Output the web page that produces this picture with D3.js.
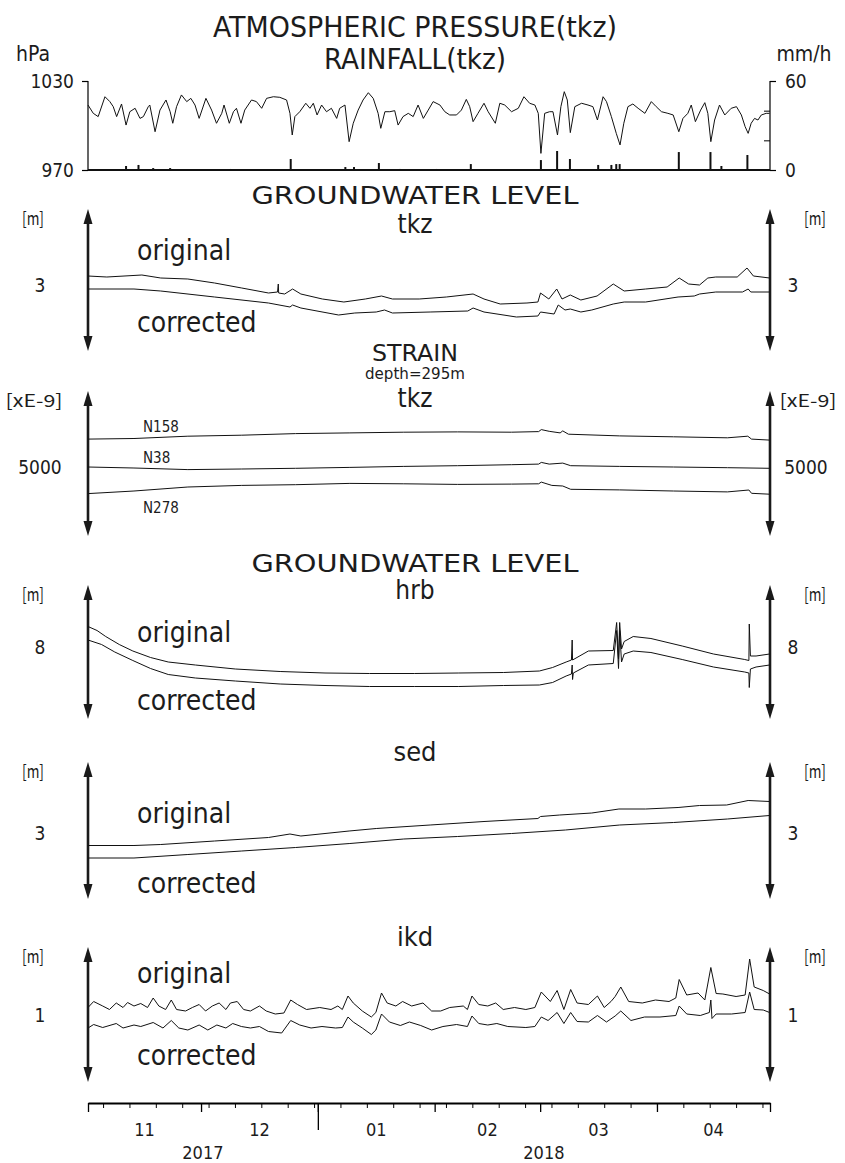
<!DOCTYPE html>
<meta charset="utf-8"/>
<style>
  body { margin: 0; background: #fff; }
  text {
    font-family: "Liberation Sans Narrow", "DejaVu Sans Condensed", "Roboto Condensed", sans-serif;
    font-stretch: condensed;
    fill: #1c1c1c;
  }
  .trace { fill: none; stroke: #111; stroke-width: 1; stroke-linejoin: round; }
  .unit { font-family: "Noto Sans CJK JP", "DejaVu Sans Mono", monospace; font-stretch: normal; }
</style>
<body>
<svg width="845" height="1163"></svg>
</body>
<script src="https://d3js.org/d3.v7.min.js"></script>
<script>

  // --- data: [day since 2017-11-01, value] ---
  var pressure = [[0,1013.8],[1.4,1008.2],[2.7,1006.0],[4.5,1019.4],[5.8,1016.1],[6.7,1012.7],[7.6,1006.0],[8.9,1014.5],[10.1,1000.3],[11.1,1009.3],[12.5,1011.6],[13.8,1004.8],[14.7,1006.0],[16.0,1012.7],[16.4,1013.8],[17.8,995.8],[19.1,1010.4],[20.7,1017.2],[21.8,1009.3],[22.5,1001.5],[23.5,1012.7],[24.8,1020.6],[26.2,1016.1],[27.3,1018.3],[28.4,1013.8],[29.5,1004.8],[31.3,1018.3],[32.8,1010.4],[34.1,1001.5],[35.5,1008.2],[36.1,1013.8],[37.5,1001.5],[38.6,1009.3],[39.4,1011.6],[40.6,1001.5],[41.6,1010.4],[43.4,1017.2],[44.7,1016.1],[46.1,1011.6],[47.4,1018.3],[49.2,1019.4],[50.9,1019.0],[52.7,1017.2],[53.6,1008.2],[54.2,993.6],[54.9,1006.0],[56.2,1009.3],[57.8,1015.0],[58.9,1011.6],[59.8,1015.0],[60.8,1007.1],[62.0,1013.8],[63.3,1009.3],[64.6,1011.6],[66.0,1004.8],[66.8,1011.6],[68.2,1013.8],[69.3,989.1],[70.4,1001.5],[71.7,1010.4],[73.0,1017.2],[74.4,1022.1],[75.7,1018.3],[77.0,1008.2],[77.7,998.1],[78.8,1009.3],[80.1,1009.3],[81.4,1010.0],[82.3,1000.3],[83.6,1006.0],[85.0,1008.2],[86.3,1006.0],[87.6,1013.8],[89.0,1004.8],[90.3,1010.4],[91.6,1016.1],[93.4,1013.8],[94.7,1009.3],[96.0,1007.1],[97.8,1007.1],[99.1,1010.4],[100.4,1017.6],[101.3,1012.7],[102.2,1002.6],[103.5,1008.2],[105.1,1015.0],[106.2,1009.3],[108.1,1001.5],[109.3,1015.0],[110.6,1013.8],[112.4,1009.3],[114.2,1011.6],[115.7,1019.4],[117.2,1015.0],[118.6,1013.8],[119.5,1008.2],[120.2,981.2],[121.2,1008.2],[122.5,1009.3],[123.4,1009.3],[124.6,993.6],[125.5,1012.7],[126.4,1022.8],[127.2,1017.2],[128.0,995.2],[129.2,1012.7],[131.0,1015.0],[132.7,1013.8],[134.0,1012.7],[135.2,1003.7],[136.7,1019.4],[137.6,1016.1],[138.9,1006.0],[140.2,994.7],[141.2,986.9],[142.2,1001.5],[143.3,1012.7],[144.6,1014.5],[146.0,1011.6],[147.8,1008.2],[149.5,1016.1],[150.8,1012.7],[152.2,1009.3],[153.9,1008.2],[155.3,1007.1],[156.8,995.8],[157.9,1004.8],[159.2,1008.2],[160.1,1013.8],[161.2,1002.6],[162.6,1010.4],[163.7,1015.4],[164.5,1008.2],[165.3,989.1],[166.3,1003.7],[167.6,1013.8],[169.0,1007.1],[170.7,1011.6],[172.1,1012.7],[173.4,1007.1],[174.4,999.2],[175.2,994.7],[176.0,1001.5],[176.9,1004.8],[177.8,1003.7],[178.7,1007.1],[180.0,1008.2],[180.9,1008.2]]

  var rainfall = [[10.1,2.7],[13.4,3.4],[17.3,1.3],[21.8,1.3],[37.9,0.7],[53.8,7.4],[68.3,2.0],[70.6,2.0],[77.2,4.7],[82.8,0.7],[92.5,0.7],[101.6,4.0],[120.2,6.7],[124.5,12.8],[127.9,7.4],[135.4,3.4],[138.9,3.4],[140.2,4.0],[141.1,4.0],[156.8,12.1],[165.2,12.1],[168.1,2.7],[175.0,10.1]]

  var tkzOriginal = [[0,3.09],[5.0,3.08],[14.3,3.10],[19.3,3.07],[26.5,3.06],[33.6,3.02],[40.8,2.97],[47.9,2.92],[50.3,2.93],[50.5,3.01],[50.6,2.92],[52.2,2.91],[54.3,2.96],[56.5,2.91],[62.2,2.86],[67.9,2.83],[73.6,2.86],[77.9,2.89],[80.8,2.86],[87.9,2.86],[95.1,2.88],[102.2,2.91],[105.1,2.86],[109.4,2.81],[116.5,2.82],[119.4,2.83],[120.1,2.92],[122.3,2.86],[124.4,2.96],[125.8,2.86],[128.0,2.90],[130.8,2.85],[135.1,2.89],[139.4,3.01],[142.3,2.94],[148.0,2.96],[153.7,2.98],[156.9,3.07],[159.4,3.01],[162.3,3.00],[164.5,3.07],[166.6,3.08],[172.3,3.08],[174.9,3.17],[176.6,3.09],[180.9,3.07]]
  var tkzCorrected = [[0,2.96],[12.2,2.96],[19.3,2.94],[33.6,2.88],[47.9,2.82],[53.6,2.78],[54.3,2.80],[56.5,2.77],[66.5,2.70],[70.8,2.72],[76.5,2.73],[78.7,2.75],[80.8,2.72],[90.8,2.73],[100.8,2.74],[102.2,2.77],[105.1,2.73],[113.7,2.68],[119.4,2.69],[120.1,2.73],[123.7,2.71],[124.8,2.80],[126.6,2.75],[128.0,2.76],[130.8,2.73],[133.7,2.75],[139.4,2.81],[142.3,2.83],[148.0,2.83],[156.6,2.88],[160.9,2.89],[162.3,2.91],[166.6,2.93],[173.7,2.93],[175.2,2.96],[175.9,2.93],[180.9,2.93]]

  var strainN158 = [[0,5558],[12.2,5570],[26.5,5616],[40.8,5636],[55.1,5668],[69.5,5682],[83.8,5696],[98.1,5702],[112.4,5696],[119.6,5708],[120.3,5748],[122.4,5714],[125.3,5682],[126.0,5722],[127.5,5656],[141.1,5622],[155.4,5604],[169.7,5584],[175.1,5616],[176.1,5558],[180.9,5538]]
  var strainN38 = [[0,5000],[12.2,4980],[26.5,4948],[40.8,4960],[55.1,4974],[69.5,4992],[83.8,5012],[98.1,5026],[112.4,5046],[119.6,5058],[120.3,5092],[122.4,5058],[126.0,5078],[128.1,5026],[141.1,5012],[155.4,5000],[169.7,4986],[180.9,4974]]
  var strainN278 = [[0,4468],[12.2,4520],[26.5,4600],[40.8,4632],[55.1,4646],[69.5,4672],[83.8,4664],[98.1,4652],[112.4,4658],[119.6,4664],[120.3,4698],[123.1,4632],[126.0,4620],[128.1,4554],[141.1,4542],[155.4,4520],[169.7,4502],[175.4,4540],[176.1,4474],[180.9,4456]]

  var hrbOriginal = [[0,8.41],[2.4,8.33],[4.7,8.21],[8.3,8.05],[11.9,7.92],[16.6,7.79],[21.3,7.70],[28.5,7.64],[39.1,7.56],[51.0,7.51],[62.9,7.48],[74.7,7.47],[86.6,7.47],[98.4,7.48],[110.3,7.49],[119.8,7.52],[123.3,7.59],[126.9,7.70],[128.3,7.74],[128.5,8.14],[128.6,7.74],[132.8,7.92],[139.4,7.93],[140.3,8.49],[140.8,7.76],[141.1,8.49],[141.6,7.96],[142.3,8.11],[144.7,8.21],[149.4,8.17],[157.7,8.02],[166.0,7.86],[174.3,7.75],[175.4,7.73],[175.5,8.46],[175.8,7.82],[177.3,7.82],[180.9,7.86]]
  var hrbCorrected = [[0,8.14],[3.6,8.05],[7.1,7.90],[11.9,7.73],[16.6,7.57],[21.3,7.45],[28.5,7.38],[39.1,7.32],[51.0,7.26],[62.9,7.23],[74.7,7.21],[86.6,7.21],[98.4,7.21],[110.3,7.23],[119.8,7.24],[123.3,7.29],[126.9,7.42],[128.3,7.46],[128.5,7.64],[128.6,7.35],[128.8,7.48],[132.8,7.64],[139.4,7.67],[140.3,8.33],[140.8,7.57],[141.1,8.33],[141.6,7.70],[142.3,7.86],[144.7,7.92],[149.4,7.89],[157.7,7.75],[166.0,7.60],[174.3,7.50],[175.4,7.48],[175.5,7.19],[175.8,7.56],[177.3,7.60],[180.9,7.64]]

  var sedOriginal = [[0,2.75],[12.2,2.75],[19.3,2.77],[33.6,2.84],[47.9,2.91],[53.6,2.98],[56.5,2.94],[69.3,3.04],[76.5,3.09],[90.8,3.16],[105.1,3.23],[119.4,3.29],[120.1,3.33],[125.2,3.36],[133.7,3.40],[140.9,3.48],[148.0,3.48],[156.6,3.51],[162.3,3.55],[169.5,3.56],[175.2,3.65],[180.9,3.63]]
  var sedCorrected = [[0,2.50],[12.2,2.50],[26.5,2.57],[40.8,2.64],[55.1,2.71],[69.5,2.79],[83.8,2.88],[98.1,2.93],[112.4,2.99],[126.7,3.06],[141.1,3.16],[155.4,3.21],[169.7,3.28],[180.9,3.35]]

  var ikdOriginal = [[0,1.15],[1.5,1.27],[3.9,1.18],[5.7,1.11],[7.5,1.24],[9.3,1.15],[10.5,1.25],[12.2,1.18],[14.0,1.23],[15.8,1.15],[17.3,1.34],[18.8,1.18],[20.6,1.11],[22.1,1.30],[23.5,1.11],[25.9,1.08],[27.7,1.15],[29.5,1.21],[31.2,1.08],[33.0,1.18],[34.8,1.24],[36.6,1.11],[37.8,1.24],[39.6,1.27],[41.3,1.11],[43.1,1.08],[45.5,1.18],[47.3,1.08],[49.7,1.02],[52.0,1.04],[53.8,1.30],[55.6,1.21],[58.0,1.11],[61.5,1.15],[64.5,1.11],[66.3,1.18],[67.5,1.11],[69.0,1.38],[70.4,1.24],[72.8,1.08],[75.2,0.96],[76.4,1.05],[77.9,1.44],[79.4,1.24],[81.7,1.18],[83.5,1.27],[85.9,1.18],[88.9,1.24],[91.2,1.08],[93.6,1.08],[96.0,1.15],[99.6,1.18],[100.7,1.11],[101.9,1.38],[103.7,1.21],[106.1,1.18],[108.2,1.24],[110.2,1.11],[113.2,1.15],[116.2,1.11],[118.6,1.15],[120.3,1.46],[122.7,1.27],[124.5,1.49],[126.3,1.11],[128.1,1.51],[129.8,1.24],[132.8,1.21],[135.2,1.38],[137.0,1.15],[138.8,1.27],[139.9,1.37],[141.4,1.56],[143.5,1.27],[147.1,1.24],[150.6,1.30],[154.2,1.27],[156.0,1.34],[156.9,1.71],[158.9,1.40],[161.9,1.44],[163.7,1.30],[165.3,1.95],[166.7,1.43],[168.5,1.42],[172.0,1.37],[174.4,1.40],[175.6,2.12],[176.8,1.56],[179.2,1.49],[180.9,1.42]]
  var ikdCorrected = [[0,0.74],[1.5,0.81],[3.9,0.75],[7.5,0.83],[9.3,0.74],[12.2,0.80],[14.0,0.77],[17.3,0.85],[19.9,0.74],[22.1,0.89],[24.1,0.74],[26.5,0.70],[29.5,0.80],[31.8,0.70],[34.2,0.80],[36.6,0.74],[38.4,0.83],[40.7,0.77],[43.1,0.74],[45.5,0.77],[47.9,0.67],[51.4,0.64],[53.8,0.89],[56.2,0.80],[59.2,0.74],[62.1,0.77],[65.7,0.74],[67.5,0.75],[69.0,0.96],[70.4,0.86],[72.8,0.74],[75.2,0.61],[76.4,0.70],[77.9,1.02],[80.0,0.86],[82.9,0.79],[85.3,0.86],[88.3,0.79],[91.2,0.70],[94.2,0.77],[97.8,0.81],[100.7,0.77],[101.9,0.98],[103.7,0.83],[106.1,0.80],[108.5,0.83],[111.4,0.77],[116.2,0.75],[118.6,0.77],[120.3,0.96],[122.1,0.89],[124.5,1.05],[126.3,0.83],[128.1,1.05],[129.8,0.87],[132.8,0.86],[135.2,0.99],[137.6,0.86],[139.9,0.98],[141.4,1.08],[144.1,0.89],[147.7,0.96],[151.8,0.96],[156.0,0.99],[156.9,1.18],[158.9,1.02],[162.5,0.99],[164.9,1.05],[165.3,1.30],[165.6,0.93],[166.7,1.02],[170.8,1.02],[174.4,1.05],[175.6,1.46],[176.8,1.11],[179.2,1.10],[180.9,1.05]]

  var monthLabels = ["11", "12", "01", "02", "03", "04"]
  var yearLabels = ["2017", "2018"]

  var svg = d3.select("svg")
  var left = 88, right = 770
  var t0 = Date.UTC(2017, 10, 1), t1 = Date.UTC(2018, 4, 1)

  var x = d3.scaleUtc().domain([new Date(t0), new Date(t1)]).range([left, right])
  function dayX(d) { return x(new Date(t0 + d * 864e5)) }

  // text centred on (px, py); optional width squeezes/stretches it to the reference width
  function label(txt, px, py, size, anchor, cls, width) {
    var t = svg.append("text")
      .attr("x", px).attr("y", py)
      .attr("dy", "0.35em")
      .attr("text-anchor", anchor || "middle")
      .attr("class", cls || null)
      .style("font-size", size + "px")
      .text(txt)
    if (width) t.attr("textLength", width).attr("lengthAdjust", "spacingAndGlyphs")
    return t
  }

  // ---------- top panel: pressure + rainfall ----------
  var yP = d3.scaleLinear().domain([970, 1030]).range([170, 81])
  var yR = d3.scaleLinear().domain([0, 60]).range([170, 81])

  label("ATMOSPHERIC PRESSURE(tkz)", 415, 27, 28, "middle", null, 404)
  label("RAINFALL(tkz)", 415, 59, 28, "middle", null, 182)
  label("hPa", 33, 54, 21)
  label("mm/h", 804, 54, 21)

  svg.append("g").attr("transform", "translate(" + left + ",0)")
    .call(d3.axisLeft(yP).tickValues([970, 1030]).tickSize(6).tickFormat(d3.format("d")))
    .call(function (g) {
      g.select(".domain").attr("d", "M0," + yP(1030) + "V" + yP(970)).attr("stroke-width", 1.2)
      g.selectAll("text").style("font-size", "19px").attr("x", -14)
      g.selectAll("line").attr("stroke-width", 1.2)
    })

  svg.append("g").attr("transform", "translate(" + right + ",0)")
    .call(d3.axisRight(yR).tickValues([0, 60]).tickSize(6))
    .call(function (g) {
      g.select(".domain").attr("d", "M0," + yR(60) + "V" + yR(0)).attr("stroke-width", 1.2)
      g.selectAll("text").style("font-size", "19px").attr("x", 15)
      g.selectAll("line").attr("stroke-width", 1.2)
    })
  svg.append("g").attr("transform", "translate(" + right + ",0)")
    .call(d3.axisLeft(yR).tickValues([20, 40]).tickSize(6).tickFormat(""))
    .call(function (g) { g.select(".domain").remove() })

  svg.append("line")
    .attr("x1", left).attr("x2", right).attr("y1", yP(970)).attr("y2", yP(970))
    .attr("stroke", "#111").attr("stroke-width", 2)

  svg.append("g").selectAll("line")
    .data(rainfall)
    .enter().append("line")
    .attr("x1", function (d) { return dayX(d[0]) })
    .attr("x2", function (d) { return dayX(d[0]) })
    .attr("y1", yR(0))
    .attr("y2", function (d) { return yR(d[1]) })
    .attr("stroke", "#111").attr("stroke-width", 2)

  svg.append("path")
    .datum(pressure)
    .attr("class", "trace")
    .attr("d", d3.line().x(function (d) { return dayX(d[0]) }).y(function (d) { return yP(d[1]) }))

  // ---------- lower panels ----------
  // titles: [text, y, font size, width]
  var panels = [
    { top: 209, bottom: 351, titles: [["GROUNDWATER LEVEL", 195, 25, 327], ["tkz", 224, 26]],
      unit: "[m]", tick: 3, tickY: 285, span: 0.5,
      series: [tkzOriginal, tkzCorrected], names: [["original", 250], ["corrected", 322]] },
    { top: 391, bottom: 536, titles: [["STRAIN", 353, 23, 86], ["depth=295m", 374, 15, 100], ["tkz", 398, 26]],
      unit: "[xE-9]", tick: 5000, tickY: 467, span: 1000,
      series: [strainN158, strainN38, strainN278], tags: [["N158", 427], ["N38", 458], ["N278", 508]] },
    { top: 585, bottom: 719, titles: [["GROUNDWATER LEVEL", 563, 25, 327], ["hrb", 590, 26]],
      unit: "[m]", tick: 8, tickY: 647, span: 1,
      series: [hrbOriginal, hrbCorrected], names: [["original", 632], ["corrected", 700]] },
    { top: 762, bottom: 899, titles: [["sed", 752, 27]],
      unit: "[m]", tick: 3, tickY: 833, span: 1,
      series: [sedOriginal, sedCorrected], names: [["original", 813], ["corrected", 883]] },
    { top: 947, bottom: 1082, titles: [["ikd", 937, 27]],
      unit: "[m]", tick: 1, tickY: 1015, span: 1,
      series: [ikdOriginal, ikdCorrected], names: [["original", 973], ["corrected", 1055]] }
  ]

  function arrowAxis(px, y0, y1) {
    var g = svg.append("g")
    g.append("line").attr("x1", px).attr("x2", px).attr("y1", y0 + 10).attr("y2", y1 - 10)
      .attr("stroke", "#1a1a1a").attr("stroke-width", 2.6)
    g.append("path").attr("d", "M" + px + "," + y0 + "L" + (px - 4.5) + "," + (y0 + 15) + "L" + (px + 4.5) + "," + (y0 + 15) + "Z")
      .attr("fill", "#1a1a1a")
    g.append("path").attr("d", "M" + px + "," + y1 + "L" + (px - 4.5) + "," + (y1 - 15) + "L" + (px + 4.5) + "," + (y1 - 15) + "Z")
      .attr("fill", "#1a1a1a")
  }

  panels.forEach(function (p) {
    var y = d3.scaleLinear().domain([p.tick, p.tick + p.span]).range([p.tickY, p.tickY - 50])

    p.titles.forEach(function (t) { label(t[0], 415, t[1], t[2], "middle", null, t[3]) })

    arrowAxis(left, p.top, p.bottom)
    arrowAxis(right, p.top, p.bottom)

    var wide = p.unit.length > 3
    label(p.unit, wide ? 34 : 33, p.top + 10, 17, "middle", "unit", wide ? 57 : 22)
    label(p.unit, wide ? 808 : 815, p.top + 10, 17, "middle", "unit", wide ? 57 : 22)
    label(d3.format("d")(p.tick), 40, y(p.tick), 19)
    label(d3.format("d")(p.tick), wide ? 806 : 793, y(p.tick), 19)

    p.series.forEach(function (s) {
      svg.append("path")
        .datum(s)
        .attr("class", "trace")
        .attr("d", d3.line().x(function (d) { return dayX(d[0]) }).y(function (d) { return y(d[1]) }))
    })

    if (p.names) p.names.forEach(function (n) { label(n[0], 137, n[1], 28, "start") })
    if (p.tags) p.tags.forEach(function (n) { label(n[0], 143, n[1], 15, "start") })
  })

  // ---------- time axis ----------
  var axisY = 1103
  var sundays = d3.utcSunday.range(new Date(t0), new Date(t1))
  var months = d3.utcMonth.range(new Date(t0), new Date(t1 + 1))

  svg.append("g").attr("transform", "translate(0," + axisY + ")")
    .call(d3.axisBottom(x).tickValues(sundays).tickSize(5).tickSizeOuter(0).tickFormat(""))
    .call(function (g) { g.select(".domain").attr("stroke-width", 2.2) })
  svg.append("g").attr("transform", "translate(0," + axisY + ")")
    .call(d3.axisBottom(x).tickValues(months).tickSize(9).tickFormat(""))
    .call(function (g) { g.select(".domain").remove(); g.selectAll("line").attr("stroke-width", 1.3) })
  svg.append("g").attr("transform", "translate(0," + axisY + ")")
    .call(d3.axisBottom(x).tickValues([new Date(Date.UTC(2018, 0, 1))]).tickSize(27).tickFormat(""))
    .call(function (g) { g.select(".domain").remove(); g.selectAll("line").attr("stroke-width", 1.3) })

  months.slice(0, monthLabels.length).forEach(function (m, i) {
    var next = d3.utcMonth.offset(m, 1)
    label(monthLabels[i], (x(m) + x(next)) / 2, 1130, 18)
  })
  label(yearLabels[0], (x(new Date(t0)) + x(new Date(Date.UTC(2018, 0, 1)))) / 2, 1153, 18)
  label(yearLabels[1], (x(new Date(Date.UTC(2018, 0, 1))) + x(new Date(t1))) / 2, 1153, 18)

</script>
